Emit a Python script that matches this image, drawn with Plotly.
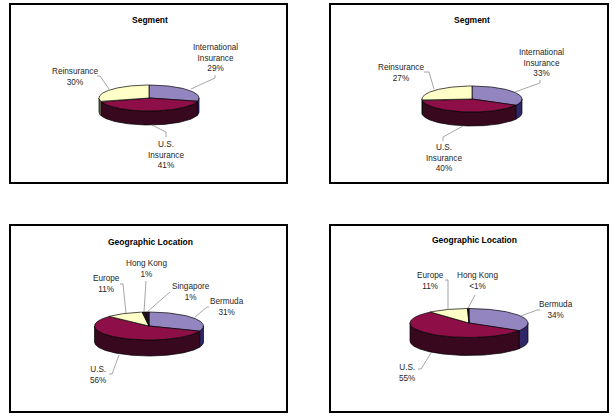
import numpy as np
import plotly.graph_objects as go

# ---------- data ----------
seg_names = ["International<br>Insurance", "U.S.<br>Insurance", "Reinsurance"]
seg_left_values = [29, 41, 30]
seg_left_text = ["29%", "41%", "30%"]
seg_right_values = [33, 40, 27]
seg_right_text = ["33%", "40%", "27%"]

geo_left_names = ["Bermuda", "U.S.", "Europe", "Hong Kong", "Singapore"]
geo_left_values = [31, 56, 11, 1, 1]
geo_left_text = ["31%", "56%", "11%", "1%", "1%"]

geo_right_names = ["Bermuda", "U.S.", "Europe", "Hong Kong"]
geo_right_values = [34, 55, 11, 0.4]
geo_right_text = ["34%", "55%", "11%", "<1%"]

titles = ["Segment", "Segment", "Geographic Location", "Geographic Location"]

# ---------- styles ----------
TOP = {"Intl": "#9385BF", "US": "#8E0F48", "Re": "#FFFFC8", "Dark": "#2A1020"}
SIDE = {"Intl": "#2F2768", "US": "#38081E", "Re": "#5C5C48", "Dark": "#1A0A14"}
FONT = "Liberation Sans, Arial, sans-serif"
TEXT = "#262626"

panels = [
    dict(title=titles[0], names=seg_names, values=seg_left_values, text=seg_left_text,
         keys=["Intl", "US", "Re"],
         frame=(10, 4, 287, 183), pie=(149, 98, 50, 13, 14), title_xy=(150, 20),
         label_xy=[(215, 58), (165.5, 155), (74.5, 76.5)],
         leaders=[[(191, 89), (215, 78), (215, 75)],
                  [(152, 125), (166, 132), (166, 137)],
                  [(109, 89), (100, 76), (97, 76)]]),
    dict(title=titles[1], names=seg_names, values=seg_right_values, text=seg_right_text,
         keys=["Intl", "US", "Re"],
         frame=(330, 4, 608, 183), pie=(472, 99, 50, 13, 14), title_xy=(472, 20),
         label_xy=[(541, 62.5), (443.5, 158), (401, 72.5)],
         leaders=[[(515, 92), (540, 83), (540, 80)],
                  [(463, 126), (443, 137), (443, 141)],
                  [(434, 89), (429, 72), (424, 72)]]),
    dict(title=titles[2], names=geo_left_names, values=geo_left_values, text=geo_left_text,
         keys=["Intl", "US", "Re", "Dark", "Dark"],
         frame=(10, 225, 287, 412), pie=(149, 326, 54.5, 14, 16), title_xy=(150, 241.5),
         label_xy=[(227, 306.5), (97.5, 374.5), (106, 284), (146, 268.5), (191, 291.5)],
         leaders=[[(195, 317), (207, 307), (209, 307)],
                  [(119, 355), (112, 374), (109, 374)],
                  [(126, 313), (123, 284), (120, 284)],
                  [(144, 312), (146, 281)],
                  [(147, 312), (170, 292)]]),
    dict(title=titles[3], names=geo_right_names, values=geo_right_values, text=geo_right_text,
         keys=["Intl", "US", "Re", "Dark"],
         frame=(330, 225, 608, 412), pie=(469, 323, 59, 14.5, 18), title_xy=(474, 240),
         label_xy=[(556, 309.5), (407, 372.5), (430, 280.5), (477, 280.5)],
         leaders=[[(521, 316), (537, 310), (540, 310)],
                  [(431, 353), (421, 369), (418, 369)],
                  [(448, 309), (448, 280), (445, 280)],
                  [(468, 308), (475, 295)]]),
]


def arc(cx, cy, rx, ry, a0, a1):
    """Ellipse arc; angles in degrees clockwise from 12 o'clock."""
    t = np.radians(np.linspace(a0, a1, max(int(abs(a1 - a0)) + 2, 3)))
    return cx + rx * np.sin(t), cy - ry * np.cos(t)


fig = go.Figure()
shapes = []
annotations = []

for p in panels:
    x0, y0, x1, y1 = p["frame"]
    shapes.append(dict(type="rect", x0=x0, y0=y0, x1=x1, y1=y1, xref="x", yref="y",
                       line=dict(color="#000000", width=2), fillcolor="#FFFFFF", layer="below"))
    annotations.append(dict(x=p["title_xy"][0], y=p["title_xy"][1], text="<b>%s</b>" % p["title"],
                            showarrow=False, xanchor="center", yanchor="middle",
                            font=dict(family=FONT, size=8.5, color="#000000")))
    cx, cy, rx, ry, depth = p["pie"]
    vals = np.array(p["values"], dtype=float)
    edges = np.concatenate([[0], np.cumsum(vals)]) / vals.sum() * 360

    # sides (only the front half of the cylinder is visible)
    for i, k in enumerate(p["keys"]):
        a0, a1 = max(edges[i], 90), min(edges[i + 1], 270)
        if a1 <= a0:
            continue
        ax, ay = arc(cx, cy, rx, ry, a0, a1)
        xs = np.concatenate([ax, ax[::-1], ax[:1]])
        ys = np.concatenate([ay, ay[::-1] + depth, ay[:1]])
        fig.add_trace(go.Scatter(x=xs, y=ys, mode="lines", fill="toself", fillcolor=SIDE[k],
                                 line=dict(color="#000000", width=0.7), hoverinfo="skip"))
    # top faces
    for i, k in enumerate(p["keys"]):
        ax, ay = arc(cx, cy, rx, ry, edges[i], edges[i + 1])
        xs = np.concatenate([[cx], ax, [cx]])
        ys = np.concatenate([[cy], ay, [cy]])
        fig.add_trace(go.Scatter(x=xs, y=ys, mode="lines", fill="toself", fillcolor=TOP[k],
                                 line=dict(color="#000000", width=0.7), hoverinfo="skip"))
    # labels and leader lines
    for name, txt, (lx, ly), pts in zip(p["names"], p["text"], p["label_xy"], p["leaders"]):
        annotations.append(dict(x=lx, y=ly, text="%s<br>%s" % (name, txt), showarrow=False,
                                xanchor="center", yanchor="middle", align="center",
                                font=dict(family=FONT, size=8.2, color=TEXT)))
        fig.add_trace(go.Scatter(x=[q[0] for q in pts], y=[q[1] for q in pts], mode="lines",
                                 line=dict(color="#808080", width=0.7), hoverinfo="skip"))

fig.update_layout(
    width=615, height=420, margin=dict(l=0, r=0, t=0, b=0),
    paper_bgcolor="#FFFFFF", plot_bgcolor="#FFFFFF", showlegend=False, hovermode=False,
    xaxis=dict(range=[0, 615], visible=False, fixedrange=True),
    yaxis=dict(range=[420, 0], visible=False, fixedrange=True),
    shapes=shapes, annotations=annotations,
)
fig.write_html("out.html", config={"displayModeBar": False},
               post_script="document.body.style.margin='0';document.body.style.overflow='hidden';")
